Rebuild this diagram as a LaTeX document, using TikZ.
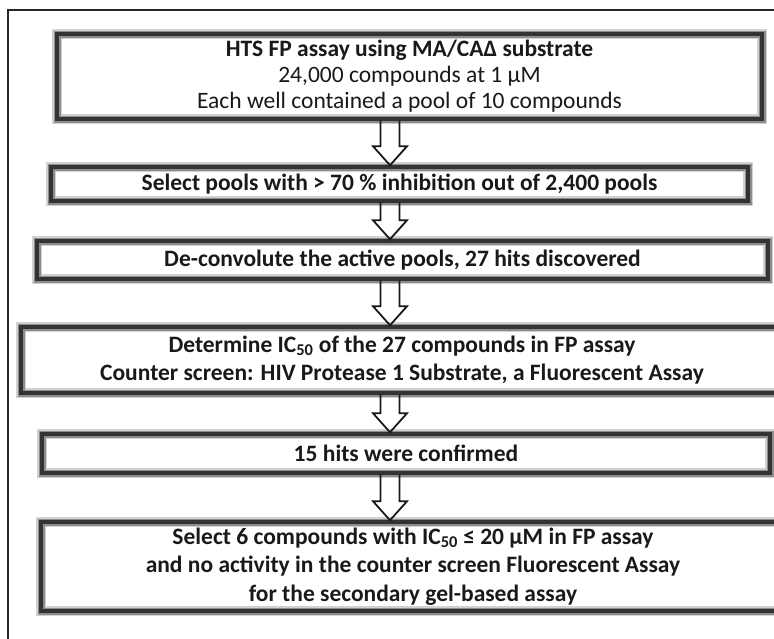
\documentclass[tikz,border=0pt]{standalone}
\usepackage{fontspec}
\setmainfont{Carlito}
\usepackage{tikz}
\usetikzlibrary{calc,positioning}
\tikzstyle{frame} = [draw=black!85, line width=1.2pt]
\tikzstyle{box} = [rectangle, draw=black!80, line width=3.5pt, align=center,
  inner sep=0pt, text=black!90, font={\fontsize{23.5}{28.5}\selectfont\bfseries},
  preaction={fill=white, draw=black!18, line width=10pt},
  preaction={draw=black!45, line width=7pt}]
\tikzstyle{harrow} = [draw=black!90, line width=1.8pt, line join=miter]
% hollow block arrow from one box down to the next
\newcommand{\flowarrow}[2]{%
  \path [harrow] let \p0=(spine), \p1=(#1.south), \p2=(#2.north) in
    (\x0-9.5pt,\y1) -- (\x0-9.5pt,\y2+19pt) -- (\x0-17pt,\y2+19pt) -- (\x0,\y2)
    -- (\x0+17pt,\y2+19pt) -- (\x0+9.5pt,\y2+19pt) -- (\x0+9.5pt,\y1);}

\begin{document}
\begin{tikzpicture}[x=1pt, y=-1pt]
    \useasboundingbox (0,0) rectangle (774,638);
    \draw [frame] (8,10) rectangle (800,660);
    \coordinate (spine) at (390,0);

    \node [box, minimum width=705, minimum height=85,
      font={\fontsize{23.5}{26}\selectfont\bfseries}] at (409.5,76.5) (screen)
      {HTS FP assay using MA/CAΔ substrate\\
        {\mdseries 24,000 compounds at 1 µM}\\
        {\mdseries Each well contained a pool of 10 compounds}};
    \node [box, minimum width=697, minimum height=34] at (399.5,184) (pools)
      {Select pools with > 70 \% inhibition out of 2,400 pools};
    \node [box, minimum width=731, minimum height=38] at (402.5,260) (deconv)
      {De-convolute the active pools, 27 hits discovered};
    \node [box, minimum width=762, minimum height=66] at (402,360) (ic50)
      {Determine IC\textsubscript{50} of the 27 compounds in FP assay\\
        Counter screen: HIV Protease 1 Substrate, a Fluorescent Assay};
    \node [box, minimum width=728, minimum height=39] at (406,453.5) (confirm)
      {15 hits were confirmed};
    \node [box, minimum width=744, minimum height=89] at (413,566.5) (select)
      {Select 6 compounds with IC\textsubscript{50} ≤ 20 µM in FP assay\\
        and no activity in the counter screen Fluorescent Assay\\
        for the secondary gel-based assay};

    \flowarrow{screen}{pools}
    \flowarrow{pools}{deconv}
    \flowarrow{deconv}{ic50}
    \flowarrow{ic50}{confirm}
    \flowarrow{confirm}{select}
  \end{tikzpicture}
\end{document}
